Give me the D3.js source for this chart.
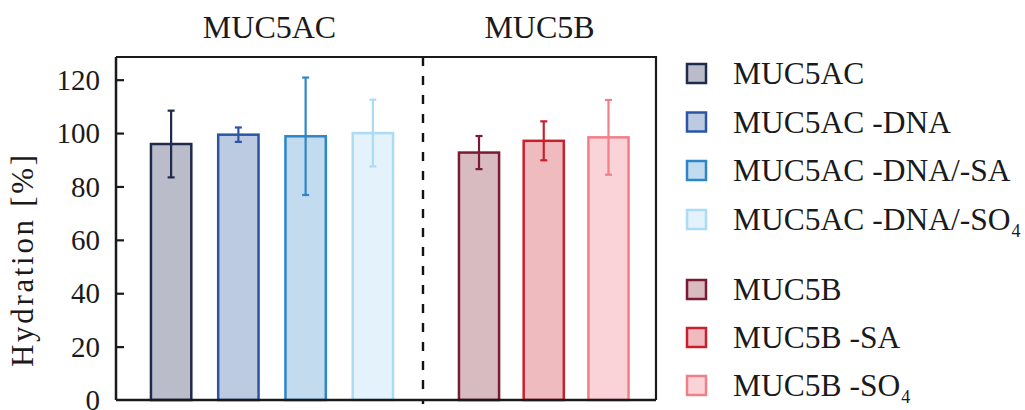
<!DOCTYPE html>
<html>
<head>
<meta charset="utf-8">
<script src="https://cdn.jsdelivr.net/npm/d3@7"></script>
<style>
  @font-face {
    font-family: "ChartSerif";
    src: local("Liberation Serif"), local("LiberationSerif"), local("LiberationSerif-Regular"),
         local("Times New Roman"), local("Tinos");
  }
  html, body { margin: 0; padding: 0; background: #fff; }
  svg { display: block; }
</style>
</head>
<body>
<svg id="chart" width="1025" height="410" font-family="Liberation Serif"></svg>
<script>
// Hydration of mucin samples after enzymatic treatments
const groups = ["MUC5AC", "MUC5B"];
const categories = [
  "MUC5AC", "MUC5AC -DNA", "MUC5AC -DNA/-SA", "MUC5AC -DNA/-SO4",
  "MUC5B", "MUC5B -SA", "MUC5B -SO4"
];
const groupOf = ["MUC5AC", "MUC5AC", "MUC5AC", "MUC5AC", "MUC5B", "MUC5B", "MUC5B"];
const hydration = [95.9, 99.4, 98.8, 100.0, 92.7, 97.1, 98.4];
const errors = [12.5, 2.7, 22.0, 12.5, 6.2, 7.3, 14.0];
const yTicks = [0, 20, 40, 60, 80, 100, 120];
const fills = ["#bbbcc9", "#bdcbe2", "#c2dbef", "#e3f2fb", "#d8bac1", "#efbbbe", "#f9d3d7"];
const strokes = ["#1f2b4d", "#2b55a4", "#2e86c9", "#abdcf4", "#7a1a35", "#c9202e", "#f17f89"];

const FONT = "Liberation Serif";
const INK = "#1a1a1a";
const svg = d3.select("#chart");
const frame = { left: 116, right: 656, top: 57, bottom: 400 };
const divider = 423;

// every label uses the same serif face
const setFont = (sel, size) => sel
  .attr("font-family", FONT).attr("font-size", size)
  .style("font-family", `"${FONT}", "ChartSerif"`);

const y = d3.scaleLinear().domain([0, 128.5]).range([frame.bottom, frame.top]);

// one band scale per mucin group, split by the dashed divider
const xA = d3.scaleBand()
  .domain(categories.filter((c, i) => groupOf[i] === "MUC5AC"))
  .range([137.5, 406.5]).paddingInner(0.4).paddingOuter(0.2);
const xB = d3.scaleBand()
  .domain(categories.filter((c, i) => groupOf[i] === "MUC5B"))
  .range([446, 641.5]).paddingInner(0.38).paddingOuter(0.2);
const xOf = (c, i) => (groupOf[i] === "MUC5AC" ? xA : xB);

const data = categories.map((c, i) => ({
  name: c, v: hydration[i], e: errors[i], fill: fills[i], stroke: strokes[i],
  x: xOf(c, i)(c), w: xOf(c, i).bandwidth()
}));

// bars
svg.append("g").selectAll("rect").data(data).join("rect")
  .attr("x", d => d.x)
  .attr("y", d => y(d.v))
  .attr("width", d => d.w)
  .attr("height", d => y(0) - y(d.v))
  .attr("fill", d => d.fill)
  .attr("stroke", d => d.stroke)
  .attr("stroke-width", 2.5);

// error bars
const eb = svg.append("g").selectAll("g").data(data).join("g")
  .attr("stroke", d => d.stroke).attr("stroke-width", 2.2);
eb.append("line")
  .attr("x1", d => d.x + d.w / 2).attr("x2", d => d.x + d.w / 2)
  .attr("y1", d => y(d.v + d.e)).attr("y2", d => y(d.v - d.e));
eb.append("line")
  .attr("x1", d => d.x + d.w / 2 - 3.5).attr("x2", d => d.x + d.w / 2 + 3.5)
  .attr("y1", d => y(d.v + d.e)).attr("y2", d => y(d.v + d.e));
eb.append("line")
  .attr("x1", d => d.x + d.w / 2 - 3.5).attr("x2", d => d.x + d.w / 2 + 3.5)
  .attr("y1", d => y(d.v - d.e)).attr("y2", d => y(d.v - d.e));

// dashed divider between the groups
svg.append("line")
  .attr("x1", divider).attr("x2", divider)
  .attr("y1", frame.top).attr("y2", frame.bottom + 4)
  .attr("stroke", "#111").attr("stroke-width", 2.4)
  .attr("stroke-dasharray", "9,10");

// frame: top and right edges
svg.append("path")
  .attr("d", `M${frame.left},${frame.top}H${frame.right}V${frame.bottom}`)
  .attr("fill", "none").attr("stroke", INK).attr("stroke-width", 2.2);

// bottom axis line
svg.append("line")
  .attr("x1", frame.left).attr("x2", frame.right)
  .attr("y1", frame.bottom).attr("y2", frame.bottom)
  .attr("stroke", INK).attr("stroke-width", 2.5);

// left axis with inward ticks
const yAxis = d3.axisLeft(y).tickValues(yTicks).tickSize(-8).tickPadding(16)
  .tickFormat(d3.format("d"));
const ga = svg.append("g").attr("transform", `translate(${frame.left},0)`).call(yAxis);
setFont(ga, 29);
ga.select(".domain").attr("stroke", INK).attr("stroke-width", 2.5)
  .attr("d", `M0,${frame.top}V${frame.bottom}`);
ga.selectAll(".tick line").attr("stroke", INK).attr("stroke-width", 2.2)
  .filter(d => d === 0).remove();
setFont(ga.selectAll(".tick text"), 29)
  .attr("fill", INK).attr("dy", "0.33em");

// y-axis title
setFont(svg.append("text"), 31)
  .attr("transform", `translate(33,261) rotate(-90)`)
  .attr("text-anchor", "middle")
  .attr("textLength", 212).attr("lengthAdjust", "spacing")
  .attr("fill", INK)
  .text("Hydration [%]");

// group titles
const groupCenters = [(frame.left + divider) / 2, (divider + frame.right) / 2];
setFont(svg.append("g").selectAll("text").data(groups).join("text"), 32)
  .attr("x", (d, i) => groupCenters[i]).attr("y", 38)
  .attr("text-anchor", "middle")
  .attr("fill", INK)
  .text(d => d);

// legend
const legendBaselines = [84, 132.5, 181, 230, 300, 348, 396];
const lg = svg.append("g").selectAll("g").data(data).join("g")
  .attr("transform", (d, i) => `translate(0,${legendBaselines[i]})`);
lg.append("rect")
  .attr("x", 687).attr("y", -20).attr("width", 19).attr("height", 19)
  .attr("fill", d => d.fill).attr("stroke", d => d.stroke).attr("stroke-width", 2.5);
lg.each(function (d) {
  const t = setFont(d3.select(this).append("text"), 31.5)
    .attr("x", 733).attr("y", 0)
    .attr("fill", INK);
  if (d.name.endsWith("SO4")) {
    t.append("tspan").text(d.name.slice(0, -1));
    t.append("tspan").attr("font-size", 18).attr("dx", 1).attr("dy", 7).text("4");
  } else {
    t.text(d.name);
  }
});
</script>
</body>
</html>
